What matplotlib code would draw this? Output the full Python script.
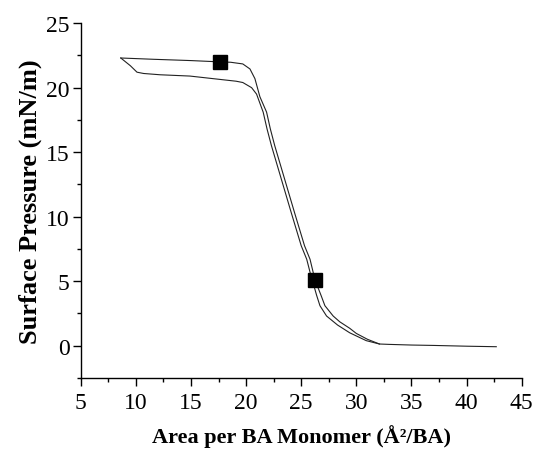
import matplotlib
matplotlib.use("Agg")
import matplotlib.pyplot as plt
from matplotlib.ticker import MultipleLocator

# compression branch (read right to left)
comp_x = [42.7, 40.0, 37.0, 35.0, 33.0, 32.1, 31.0, 30.0, 29.4, 28.5, 27.9, 27.15,
          26.8, 26.25, 25.8, 25.3, 24.4, 23.5, 22.6, 22.2, 21.86, 21.25, 20.8,
          20.35, 19.7, 18.6, 17.6, 15.0, 11.6, 8.63]
comp_y = [-0.08, -0.04, 0.02, 0.05, 0.1, 0.13, 0.5, 0.95, 1.35, 1.85, 2.3, 3.1,
          3.9, 5.1, 6.7, 7.75, 10.3, 12.9, 15.5, 16.8, 18.1, 19.3, 20.7,
          21.45, 21.84, 21.97, 22.0, 22.1, 22.2, 22.3]

# expansion branch (left to right)
exp_x = [8.63, 9.5, 10.1, 10.7, 12.2, 14.9, 17.0, 19.1, 19.7, 20.5, 20.95, 21.55,
         21.9, 22.3, 23.2, 24.1, 25.0, 25.5, 25.8, 26.4, 26.7, 27.3, 28.3, 29.4,
         30.9, 32.1]
exp_y = [22.3, 21.7, 21.2, 21.1, 21.0, 20.9, 20.7, 20.5, 20.4, 20.0, 19.5, 18.1,
         16.8, 15.5, 12.9, 10.3, 7.75, 6.7, 5.7, 3.9, 3.1, 2.3, 1.6, 1.0,
         0.39, 0.13]

# marked points
mark_x = [17.6, 26.25]
mark_y = [22.0, 5.1]

plt.rcParams["font.family"] = ["Liberation Serif", "DejaVu Serif"]

fig = plt.figure(figsize=(5.35, 4.56), dpi=100)
ax = fig.add_axes([0.151, 0.169, 0.824, 0.778])

ax.plot(comp_x, comp_y, color="#222222", lw=0.8)
ax.plot(exp_x, exp_y, color="#222222", lw=0.8)
ax.plot(mark_x, mark_y, "s", color="black", ms=9.5, ls="none")

ax.set_xlim(5, 45)
ax.set_ylim(-2.5, 25)
ax.xaxis.set_major_locator(MultipleLocator(5))
ax.xaxis.set_minor_locator(MultipleLocator(2.5))
ax.yaxis.set_major_locator(MultipleLocator(5))
ax.yaxis.set_minor_locator(MultipleLocator(2.5))
ax.set_yticks([0, 5, 10, 15, 20, 25])

for s in ["top", "right"]:
    ax.spines[s].set_visible(False)
for s in ["left", "bottom"]:
    ax.spines[s].set_linewidth(1.0)

ax.tick_params(which="major", direction="out", length=6, width=1.0,
               labelsize=17)
ax.tick_params(axis="y", pad=2)
ax.tick_params(axis="x", pad=4)
ax.tick_params(which="minor", direction="out", length=3, width=1.0)

ax.set_xlabel("Area per BA Monomer (Å²/BA)", fontsize=16,
              fontweight="bold", labelpad=8)
ax.set_ylabel("Surface Pressure (mN/m)", fontsize=19, fontweight="bold",
              labelpad=3)

fig.savefig("out.png", dpi=100)
